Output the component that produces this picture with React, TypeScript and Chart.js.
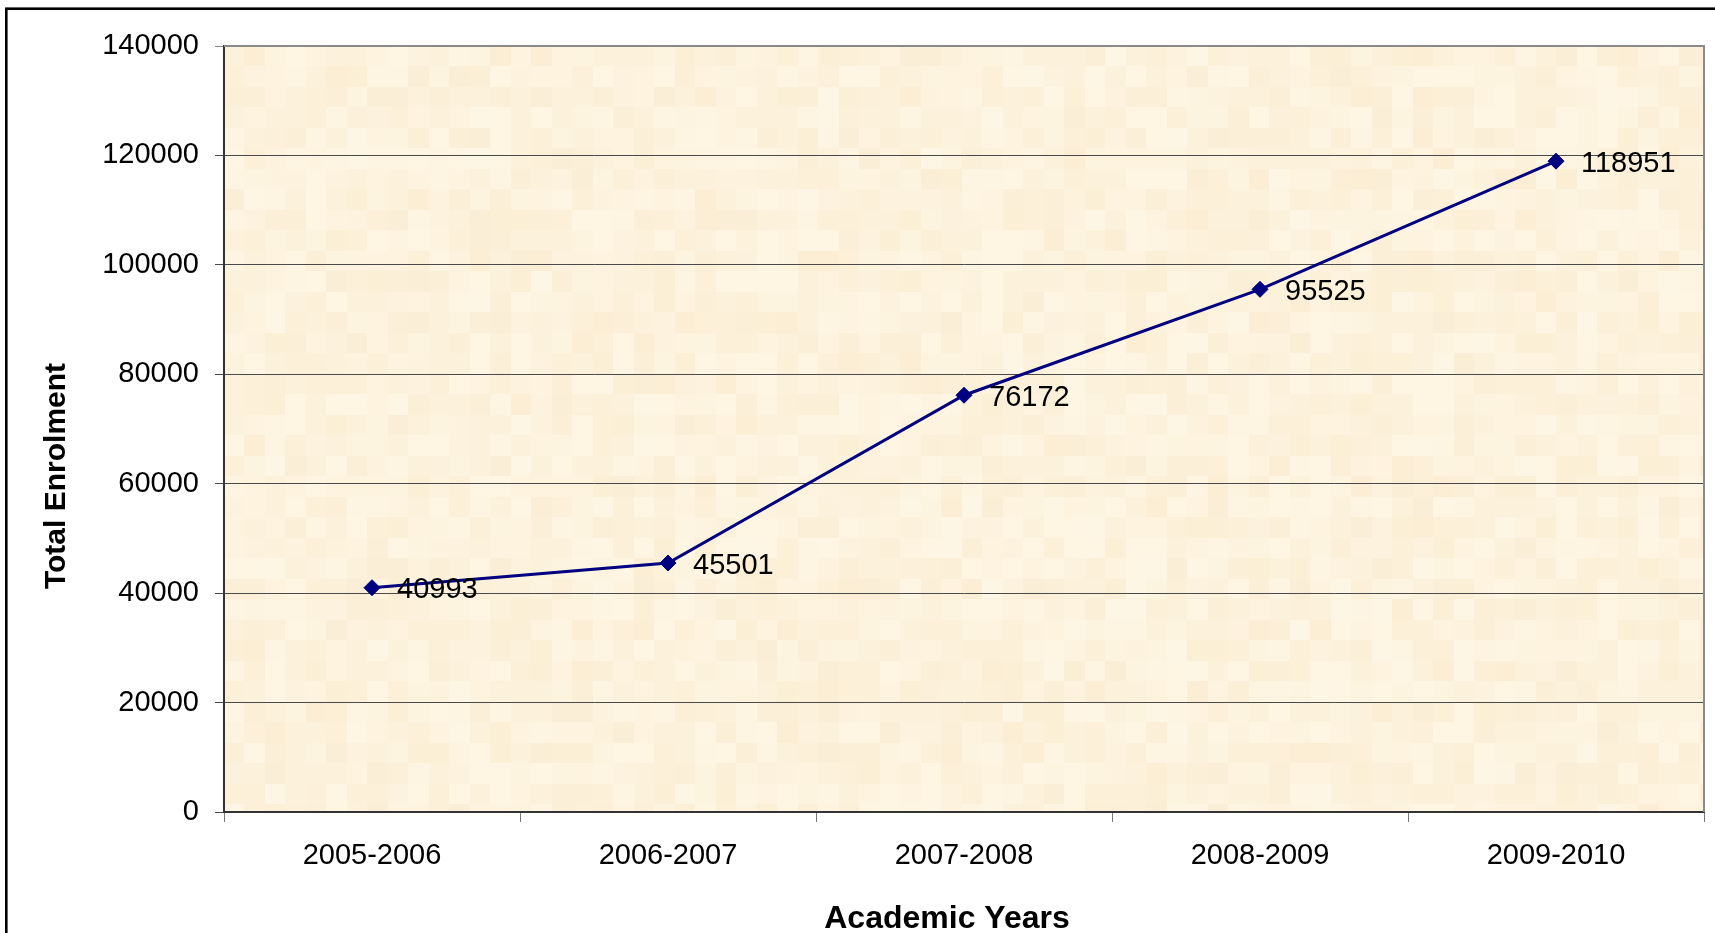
import React, { useEffect, useRef } from "react";
import { Chart, registerables } from "chart.js";

Chart.register(...registerables);

const categories = ["2005-2006", "2006-2007", "2007-2008", "2008-2009", "2009-2010"];
const enrolment = [40993, 45501, 76172, 95525, 118951];
const yTicks = [0, 20000, 40000, 60000, 80000, 100000, 120000, 140000];
const xTitle = "Academic Years";
const yTitle = "Total Enrolment";

const FONT = "'Liberation Sans', Arial, sans-serif";

function hash(i: number, j: number): number {
  let n = Math.imul(i + 17, 374761393) ^ Math.imul(j + 31, 668265263);
  n = Math.imul(n ^ (n >>> 13), 1274126177);
  n = n ^ (n >>> 16);
  return (n >>> 0) / 4294967296;
}

const texturePlugin = {
  id: "texture",
  beforeDraw(chart: any) {
    const { ctx, chartArea } = chart;
    const { left, top, right, bottom } = chartArea;
    ctx.save();
    ctx.fillStyle = "#ffffff";
    ctx.fillRect(0, 0, chart.width, chart.height);
    ctx.strokeStyle = "#000000";
    ctx.lineWidth = 2.6;
    ctx.strokeRect(6.3, 8.7, 2000, 2000);
    const bs = 20.5;
    for (let gy = 0; top + gy * bs < bottom; gy++) {
      for (let gx = 0; left + gx * bs < right; gx++) {
        const t = hash(gx, gy);
        const r = Math.round(251 + t * 3);
        const g = Math.round(238 + t * 8);
        const b = Math.round(213 + t * 15);
        ctx.fillStyle = `rgb(${r},${g},${b})`;
        const x0 = left + gx * bs;
        const y0 = top + gy * bs;
        ctx.fillRect(Math.floor(x0), Math.floor(y0), Math.ceil(Math.min(bs, right - x0)) + 1, Math.ceil(Math.min(bs, bottom - y0)) + 1);
      }
    }
    ctx.restore();
  },
  afterDraw(chart: any) {
    const { ctx, chartArea } = chart;
    const { left, top, right, bottom } = chartArea;
    ctx.save();
    ctx.strokeStyle = "#8a8a8a";
    ctx.lineWidth = 2;
    ctx.beginPath();
    ctx.moveTo(left, top);
    ctx.lineTo(right, top);
    ctx.lineTo(right, bottom);
    ctx.stroke();
    ctx.fillStyle = "#000000";
    ctx.textAlign = "center";
    ctx.textBaseline = "alphabetic";
    ctx.font = `bold 32px ${FONT}`;
    ctx.fillText(xTitle, 947, 928);
    ctx.font = `bold 30px ${FONT}`;
    ctx.translate(65, 476);
    ctx.rotate(-Math.PI / 2);
    ctx.fillText(yTitle, 0, 0);
    ctx.restore();
  },
};

const labelPlugin = {
  id: "pointLabels",
  afterDatasetsDraw(chart: any) {
    const { ctx } = chart;
    const meta = chart.getDatasetMeta(0);
    ctx.save();
    ctx.fillStyle = "#000000";
    ctx.font = `29px ${FONT}`;
    ctx.textAlign = "left";
    ctx.textBaseline = "alphabetic";
    meta.data.forEach((pt: any, i: number) => {
      ctx.fillText(String(enrolment[i]), pt.x + 25, pt.y + 10.5);
    });
    ctx.restore();
  },
};

export default function App() {
  const ref = useRef<HTMLCanvasElement | null>(null);
  useEffect(() => {
    document.body.style.margin = "0";
    const canvas = ref.current!;
    const chart = new Chart(canvas, {
      type: "line",
      data: {
        labels: categories,
        datasets: [
          {
            data: enrolment,
            borderColor: "#000080",
            backgroundColor: "#000080",
            borderWidth: 3,
            pointStyle: "rectRot",
            pointRadius: 8,
            pointBorderWidth: 1,
            pointBackgroundColor: "#000080",
            pointBorderColor: "#000080",
            tension: 0,
            fill: false,
          },
        ],
      },
      options: {
        animation: false,
        responsive: false,
        devicePixelRatio: 1,
        layout: { padding: { left: 0, top: 46, right: 11, bottom: 0 } },
        plugins: {
          legend: { display: false },
          tooltip: { enabled: false },
          title: { display: false },
        },
        scales: {
          x: {
            type: "category",
            offset: true,
            afterFit(scale: any) {
              scale.height = 121;
            },
            grid: {
              offset: true,
              drawOnChartArea: false,
              drawTicks: true,
              tickLength: 10,
              color: "#7a7a7a",
              lineWidth: 1,
            },
            border: { display: true, color: "#333333", width: 2 },
            ticks: {
              color: "#000000",
              font: { family: FONT, size: 29 },
              padding: 17,
              maxRotation: 0,
              autoSkip: false,
            },
          },
          y: {
            min: 0,
            max: 140000,
            afterFit(scale: any) {
              scale.width = 224;
            },
            afterBuildTicks(scale: any) {
              scale.ticks = yTicks.map((v) => ({ value: v }));
            },
            grid: {
              drawTicks: true,
              tickLength: 9,
              color: (c: any) => (c.tick && c.tick.value === 140000 ? "#8a8a8a" : "#4a4a4a"),
              lineWidth: 1,
            },
            border: { display: true, color: "#333333", width: 2 },
            ticks: {
              color: "#000000",
              font: { family: FONT, size: 29 },
              padding: 16,
              callback: (v: any) => String(v),
            },
          },
        },
      },
      plugins: [texturePlugin, labelPlugin],
    });
    return () => chart.destroy();
  }, []);
  return (
    <div style={{ position: "absolute", left: 0, top: 0, width: 1715, height: 933, background: "#fff" }}>
      <canvas ref={ref} width={1715} height={933} style={{ display: "block" }} />
    </div>
  );
}
